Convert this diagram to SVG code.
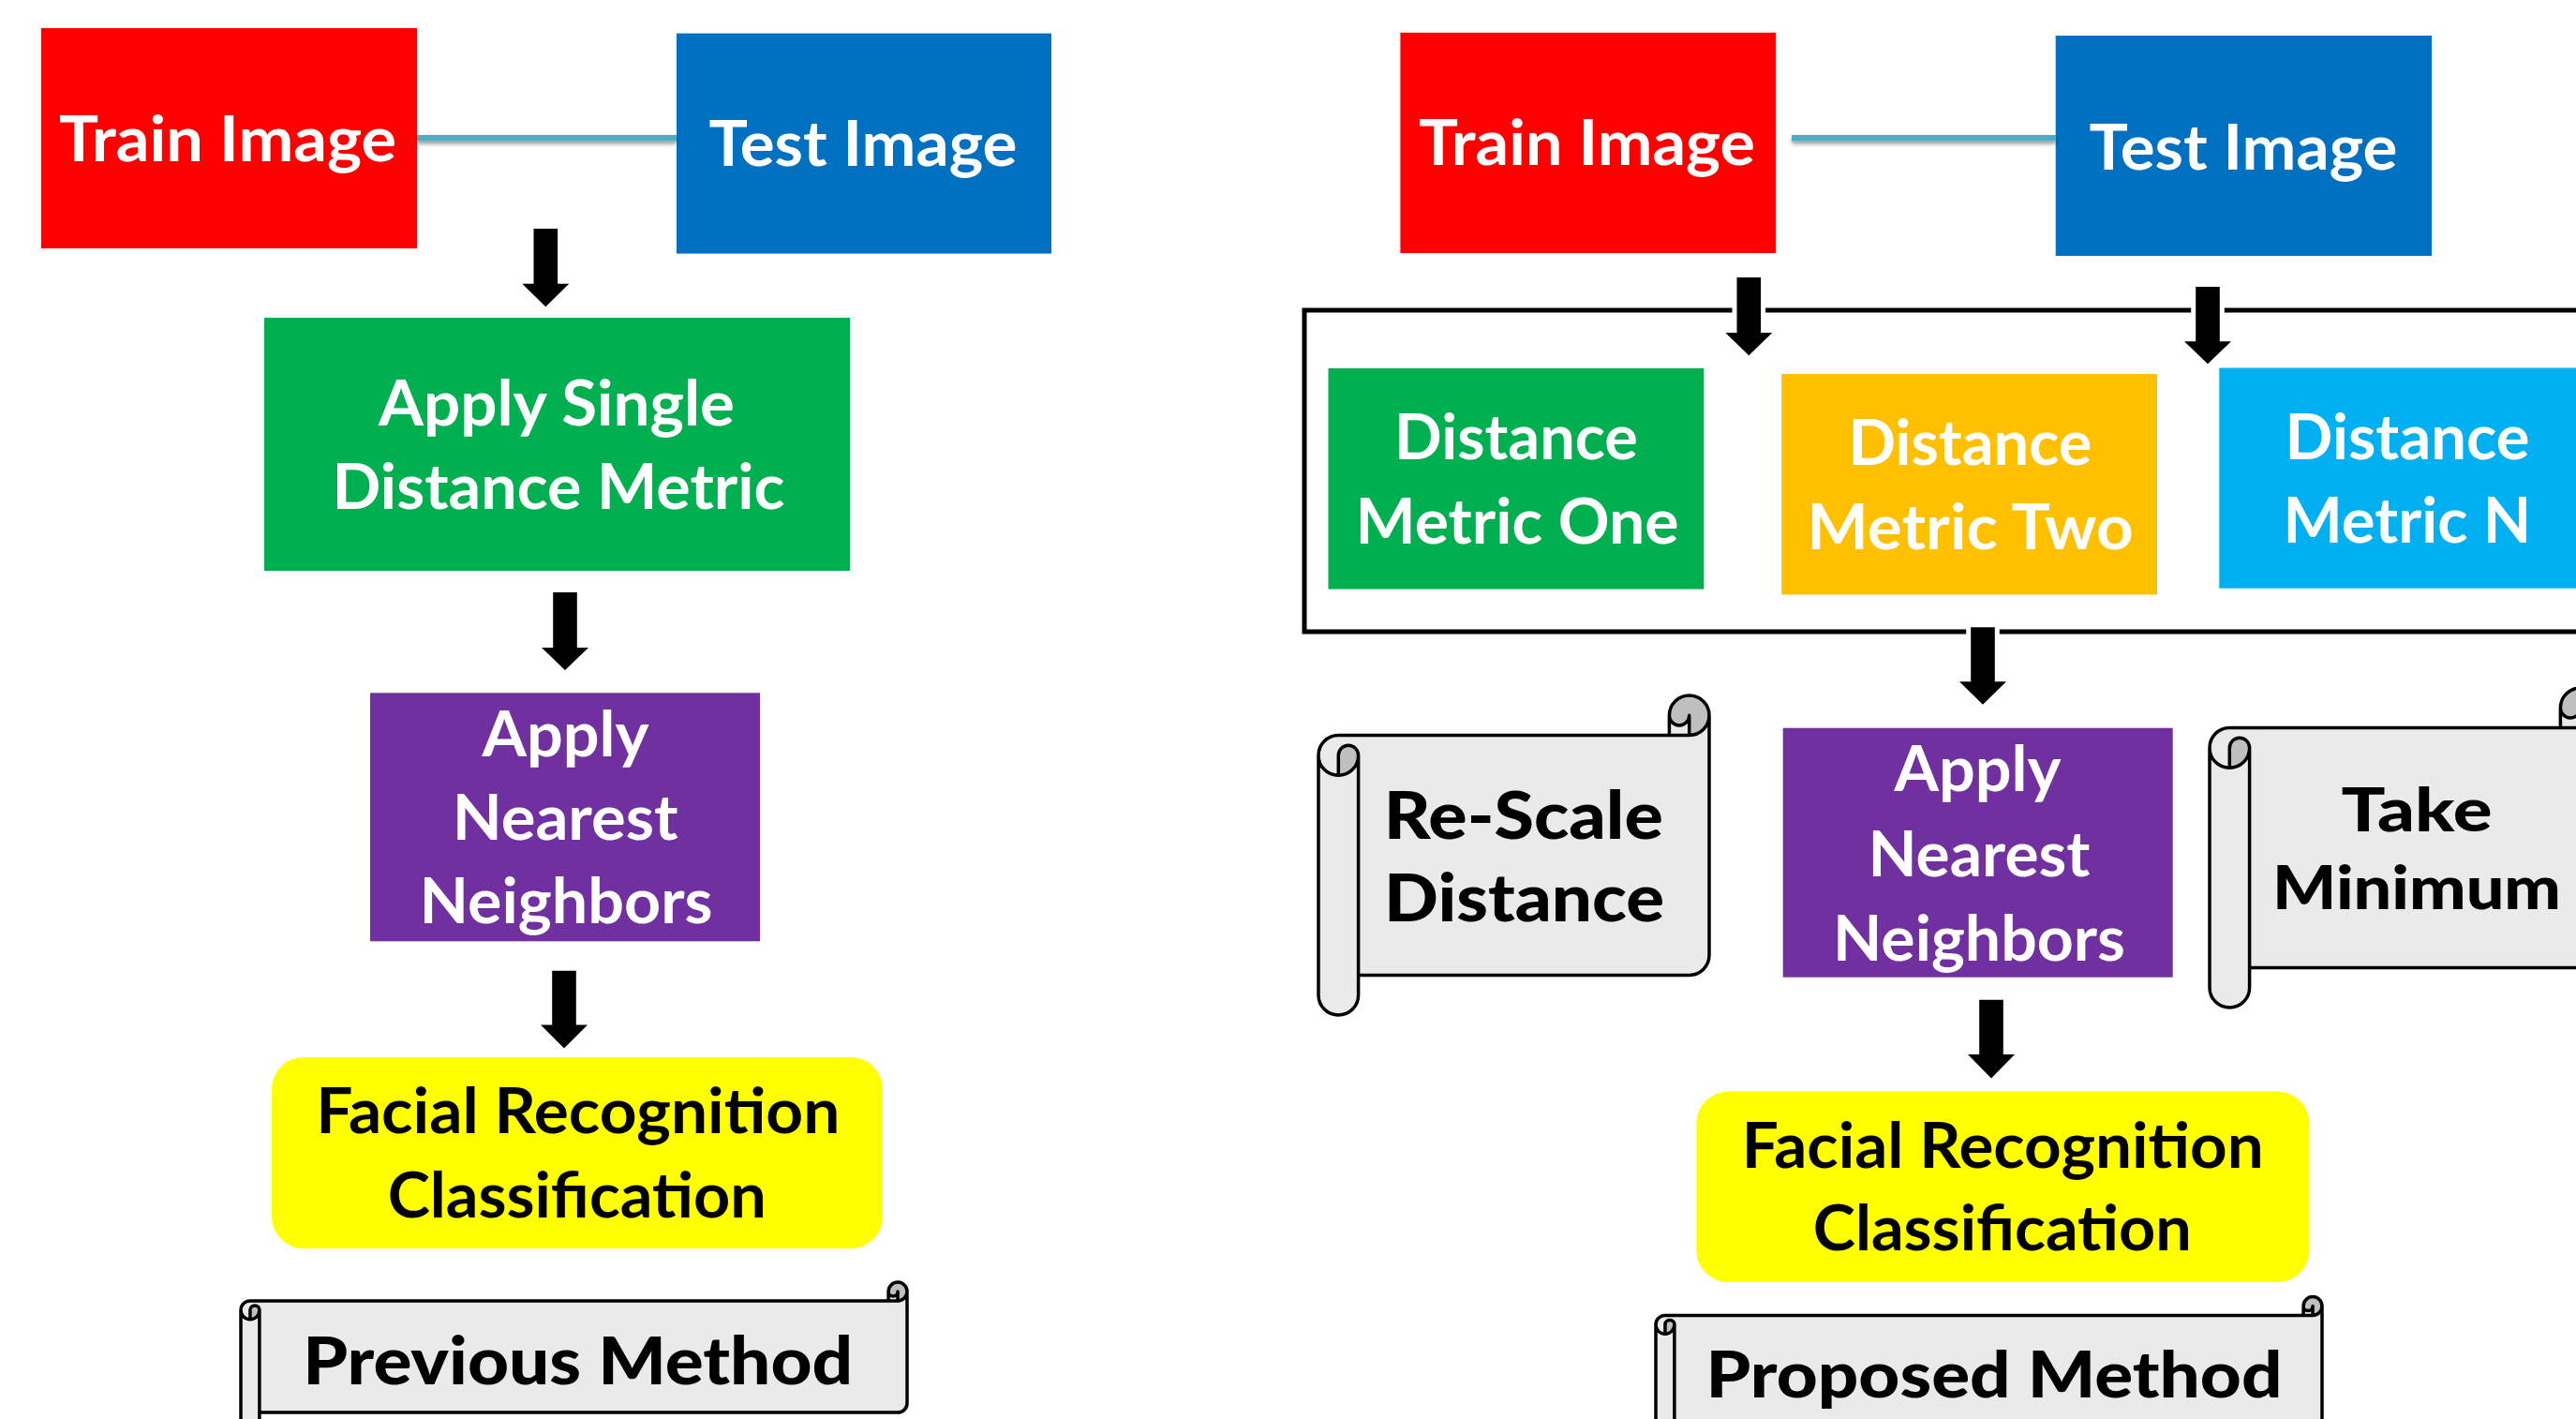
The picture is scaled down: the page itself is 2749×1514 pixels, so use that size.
<svg xmlns="http://www.w3.org/2000/svg" xmlns:xlink="http://www.w3.org/1999/xlink" width="2749" height="1514" viewBox="0 0 2749 1514">
<style>
.t{font-family:Lato,"Open Sans","Liberation Sans",sans-serif;font-weight:700;font-size:66px;text-anchor:middle}
.w{fill:#ffffff}
.k{fill:#000000}
.s{font-family:Lato,"Open Sans","Liberation Sans",sans-serif;font-weight:900;font-size:70px;text-anchor:middle;fill:#000000}
.arrow{fill:#000000;stroke:#ffffff;stroke-width:10;paint-order:stroke;stroke-linejoin:round}
.link{fill:#4BACC6}
.frame{fill:none;stroke:#000000;stroke-width:5}
.sfill{fill:#EAEAEA}
.sdark{fill:#BFBFBF}
.sline{fill:none;stroke:#000000;stroke-width:3.5;stroke-linejoin:round;stroke-linecap:round}
</style>
<defs>
<filter id="sh" x="-5%" y="-100%" width="110%" height="400%">
<feDropShadow dx="0" dy="3" stdDeviation="2" flood-color="#000000" flood-opacity="0.4"/>
</filter>
<g id="scrollA">
<path class="sfill" d="M 417,21.3 A 21.3 21.3 0 0 1 395.7,42.6 L 395.7,21.3 A 10.65 10.65 0 0 1 374.4,21.3 L 374.4,42.6 L 21.3,42.6 A 21.3 21.3 0 0 0 0,63.9 L 0,319.7 A 21.3 21.3 0 0 0 42.6,319.7 L 42.6,298.4 L 395.7,298.4 A 21.3 21.3 0 0 0 417,277.1 Z M 21.3,85.2 A 21.3 21.3 0 0 0 42.6,63.9 A 10.65 10.65 0 0 0 21.3,63.9 Z"/>
<path class="sdark" d="M 21.3,85.2 A 21.3 21.3 0 0 0 42.6,63.9 A 10.65 10.65 0 0 0 21.3,63.9 Z M 395.7,42.6 A 21.3 21.3 0 1 0 374.4,21.3 A 10.65 10.65 0 0 0 395.7,21.3 Z"/>
<path class="sline" d="M 0,63.9 A 21.3 21.3 0 0 1 21.3,42.6 L 374.4,42.6 L 374.4,21.3 A 21.3 21.3 0 0 1 417,21.3 L 417,277.1 A 21.3 21.3 0 0 1 395.7,298.4 L 42.6,298.4 L 42.6,319.7 A 21.3 21.3 0 0 1 0,319.7 Z M 374.4,42.6 L 395.7,42.6 A 21.3 21.3 0 0 0 417,21.3 M 395.7,42.6 L 395.7,21.3 A 10.65 10.65 0 0 1 374.4,21.3 M 21.3,85.2 L 21.3,63.9 A 10.65 10.65 0 0 1 42.6,63.9 A 21.3 21.3 0 0 1 0,63.9 M 42.6,63.9 L 42.6,298.4"/>
</g>
<g id="scrollB">
<path class="sfill" d="M 711,9.95 A 9.95 9.95 0 0 1 701.05,19.9 L 701.05,9.95 A 4.975 4.975 0 0 1 691.1,9.95 L 691.1,19.9 L 9.95,19.9 A 9.95 9.95 0 0 0 0,29.85 L 0,149.05 A 9.95 9.95 0 0 0 19.9,149.05 L 19.9,139.1 L 701.05,139.1 A 9.95 9.95 0 0 0 711,129.15 Z M 9.95,39.8 A 9.95 9.95 0 0 0 19.9,29.85 A 4.975 4.975 0 0 0 9.95,29.85 Z"/>
<path class="sdark" d="M 9.95,39.8 A 9.95 9.95 0 0 0 19.9,29.85 A 4.975 4.975 0 0 0 9.95,29.85 Z M 701.05,19.9 A 9.95 9.95 0 1 0 691.1,9.95 A 4.975 4.975 0 0 0 701.05,9.95 Z"/>
<path class="sline" d="M 0,29.85 A 9.95 9.95 0 0 1 9.95,19.9 L 691.1,19.9 L 691.1,9.95 A 9.95 9.95 0 0 1 711,9.95 L 711,129.15 A 9.95 9.95 0 0 1 701.05,139.1 L 19.9,139.1 L 19.9,149.05 A 9.95 9.95 0 0 1 0,149.05 Z M 691.1,19.9 L 701.05,19.9 A 9.95 9.95 0 0 0 711,9.95 M 701.05,19.9 L 701.05,9.95 A 4.975 4.975 0 0 1 691.1,9.95 M 9.95,39.8 L 9.95,29.85 A 4.975 4.975 0 0 1 19.9,29.85 A 9.95 9.95 0 0 1 0,29.85 M 19.9,29.85 L 19.9,139.1"/>
</g>
</defs>
<rect width="2749" height="1514" fill="#ffffff"/>

<!-- LEFT: previous method -->
<g id="L-train"><rect x="44" y="30" width="401" height="235" fill="#FF0000"/><text class="t w" x="243" y="172" textLength="360" lengthAdjust="spacingAndGlyphs">Train Image</text></g>
<g id="L-test"><rect x="722" y="35.6" width="400" height="235" fill="#0070C0"/><text class="t w" x="921" y="177.4" textLength="329" lengthAdjust="spacingAndGlyphs">Test Image</text></g>
<g id="L-single"><rect x="282" y="339" width="625" height="270" fill="#00B050"/><text class="t w" x="594" y="454" textLength="380" lengthAdjust="spacingAndGlyphs">Apply Single</text><text class="t w" x="596" y="543" textLength="483" lengthAdjust="spacingAndGlyphs">Distance Metric</text></g>
<g id="L-nn"><rect x="395" y="739.3" width="416" height="265" fill="#7030A0"/><text class="t w" x="603.6" y="807" textLength="178" lengthAdjust="spacingAndGlyphs">Apply</text><text class="t w" x="603.2" y="896" textLength="241" lengthAdjust="spacingAndGlyphs">Nearest</text><text class="t w" x="604" y="985" textLength="313" lengthAdjust="spacingAndGlyphs">Neighbors</text></g>
<g id="L-class"><rect x="290" y="1128" width="652" height="204" rx="34" fill="#FFFF00"/><text class="t k" x="616.8" y="1209" textLength="559" lengthAdjust="spacingAndGlyphs">Facial Recognition</text><text class="t k" x="615.7" y="1299" textLength="404" lengthAdjust="spacingAndGlyphs">Classification</text></g>
<g id="L-label"><use xlink:href="#scrollB" href="#scrollB" transform="translate(257,1368)"/><text class="s" x="616.7" y="1476.7" textLength="587" lengthAdjust="spacingAndGlyphs">Previous Method</text></g>

<!-- RIGHT: proposed method -->
<g id="R-frame"><rect class="frame" x="1392" y="331" width="1420" height="343"/></g>
<g id="R-train"><rect x="1494.4" y="34.8" width="400.6" height="235.2" fill="#FF0000"/><text class="t w" x="1693.4" y="176.3" textLength="359" lengthAdjust="spacingAndGlyphs">Train Image</text></g>
<g id="R-test"><rect x="2193.7" y="38" width="401.3" height="235" fill="#0070C0"/><text class="t w" x="2394" y="180.8" textLength="329" lengthAdjust="spacingAndGlyphs">Test Image</text></g>
<g id="R-m1"><rect x="1417.5" y="392.9" width="400.8" height="235.7" fill="#00B050"/><text class="t w" x="1618" y="490.2" textLength="260" lengthAdjust="spacingAndGlyphs">Distance</text><text class="t w" x="1619" y="580.4" textLength="345" lengthAdjust="spacingAndGlyphs">Metric One</text></g>
<g id="R-m2"><rect x="1901.2" y="399" width="400.8" height="235.4" fill="#FFC000"/><text class="t w" x="2102.4" y="496.4" textLength="260" lengthAdjust="spacingAndGlyphs">Distance</text><text class="t w" x="2102.6" y="586.2" textLength="348" lengthAdjust="spacingAndGlyphs">Metric Two</text></g>
<g id="R-mN"><rect x="2368.3" y="392.5" width="401" height="235.2" fill="#00B0F0"/><text class="t w" x="2569" y="490" textLength="261" lengthAdjust="spacingAndGlyphs">Distance</text><text class="t w" x="2569" y="579.4" textLength="265" lengthAdjust="spacingAndGlyphs">Metric N</text></g>
<g id="R-rescale"><use xlink:href="#scrollA" href="#scrollA" transform="translate(1407,742)"/><text class="s" x="1625.8" y="895" textLength="298" lengthAdjust="spacingAndGlyphs">Re-Scale</text><text class="s" x="1626.6" y="983.3" textLength="299" lengthAdjust="spacingAndGlyphs">Distance</text></g>
<g id="R-nn"><rect x="1902.7" y="776.7" width="416" height="266" fill="#7030A0"/><text class="t w" x="2110.5" y="844" textLength="178" lengthAdjust="spacingAndGlyphs">Apply</text><text class="t w" x="2112" y="935" textLength="237" lengthAdjust="spacingAndGlyphs">Nearest</text><text class="t w" x="2112" y="1025" textLength="312" lengthAdjust="spacingAndGlyphs">Neighbors</text></g>
<g id="R-min"><use xlink:href="#scrollA" href="#scrollA" transform="translate(2358,734)"/><text class="s" x="2579" y="886.7" textLength="161" lengthAdjust="spacingAndGlyphs" style="font-size:65px">Take</text><text class="s" x="2579" y="970" textLength="308" lengthAdjust="spacingAndGlyphs" style="font-size:65px">Minimum</text></g>
<g id="R-class"><rect x="1810.4" y="1164.6" width="654" height="203.4" rx="34" fill="#FFFF00"/><text class="t k" x="2137.3" y="1246" textLength="557" lengthAdjust="spacingAndGlyphs">Facial Recognition</text><text class="t k" x="2136.8" y="1334.4" textLength="404" lengthAdjust="spacingAndGlyphs">Classification</text></g>
<g id="R-label"><use xlink:href="#scrollB" href="#scrollB" transform="translate(1767,1383.5)"/><text class="s" x="2128" y="1490.6" textLength="615" lengthAdjust="spacingAndGlyphs" style="font-size:68px">Proposed Method</text></g>

<!-- connectors -->
<g id="connectors">
<rect class="link" x="445" y="144" width="277" height="6.5" filter="url(#sh)"/>
<rect class="link" x="1912" y="144" width="282" height="6.5" filter="url(#sh)"/>
<path class="arrow" d="M569.5,244 L595.1,244 L595.1,302.7 L607.3,302.7 L582.3,327.3 L557.3,302.7 L569.5,302.7 Z"/>
<path class="arrow" d="M590.2,632 L615.8,632 L615.8,691 L628,691 L603,715 L578,691 L590.2,691 Z"/>
<path class="arrow" d="M589.2,1035.7 L614.8,1035.7 L614.8,1093.6 L627,1093.6 L602,1118.4 L577,1093.6 L589.2,1093.6 Z"/>
<path class="arrow" d="M1853.5,296 L1879.1,296 L1879.1,355 L1891.3,355 L1866.3,379.3 L1841.3,355 L1853.5,355 Z"/>
<path class="arrow" d="M2343.2,306 L2368.8,306 L2368.8,364.3 L2381,364.3 L2356,388.3 L2331,364.3 L2343.2,364.3 Z"/>
<path class="arrow" d="M2103.2,669.3 L2128.8,669.3 L2128.8,727.3 L2141,727.3 L2116,751.7 L2091,727.3 L2103.2,727.3 Z"/>
<path class="arrow" d="M2112.2,1066.7 L2137.8,1066.7 L2137.8,1125 L2150,1125 L2125,1150.6 L2100,1125 L2112.2,1125 Z"/>
</g>
</svg>
